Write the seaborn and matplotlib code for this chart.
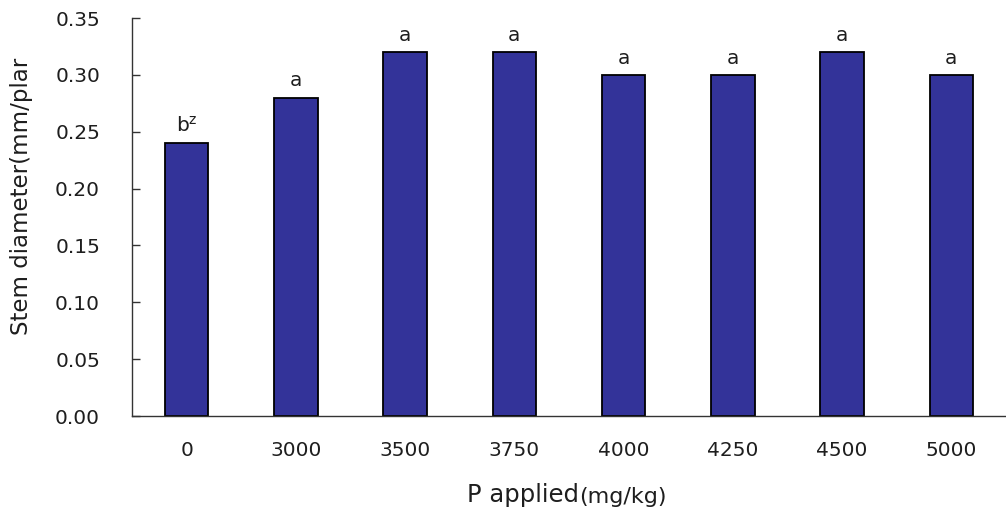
import matplotlib
matplotlib.use("Agg")
import matplotlib.pyplot as plt
import seaborn as sns
import pandas as pd
import numpy as np

# P application rates and measured stem diameter
rates = ["0", "3000", "3500", "3750", "4000", "4250", "4500", "5000"]
stem_diameter = [0.24, 0.28, 0.32, 0.32, 0.30, 0.30, 0.32, 0.30]
letters = ["b", "a", "a", "a", "a", "a", "a", "a"]
y_ticks = [0.00, 0.05, 0.10, 0.15, 0.20, 0.25, 0.30, 0.35]

sns.set_theme(style="white")
plt.rcParams["font.family"] = ["DejaVu Sans"]
TXT = "#1e1e1e"

df = pd.DataFrame({"rate": rates, "diameter": stem_diameter})

fig = plt.figure(figsize=(10.06, 5.14), dpi=100)
ax = fig.add_axes([132 / 1006, 1 - 416 / 514, 874 / 1006, (416 - 18) / 514])

sns.barplot(data=df, x="rate", y="diameter", color="#333399", saturation=1,
            width=0.4, edgecolor="black", linewidth=1.3, ax=ax)

ax.set_ylim(0, 0.35)
ax.set_xlim(-0.5, -0.5 + 874 / 110)
ax.set_yticks(y_ticks)
ax.set_yticklabels([f"{v:.2f}" for v in y_ticks], fontsize=14.5, color=TXT)
ax.set_xticks(range(len(rates)))
ax.set_xticklabels(rates, fontsize=14.5, color=TXT)
ax.tick_params(axis="x", which="major", length=0, pad=18)
ax.set_xticks(np.arange(len(rates)) + 0.5, minor=True)
ax.tick_params(axis="x", which="minor", direction="in", length=6, width=1, color="#333333")
ax.tick_params(axis="y", direction="in", length=6, width=1, color="#333333", pad=23, left=True)

for side in ["top", "right"]:
    ax.spines[side].set_visible(False)
for side in ["left", "bottom"]:
    ax.spines[side].set_color("#333333")
    ax.spines[side].set_linewidth(1.0)

ax.set_xlabel("")
ax.set_ylabel("")

# significance letters above bars
for i, (v, lab) in enumerate(zip(stem_diameter, letters)):
    txt = lab if lab != "b" else r"b$^{\mathregular{z}}$"
    ax.annotate(txt, (i, v), xytext=(0, 8), textcoords="offset points",
                ha="center", va="baseline", fontsize=14.5, color=TXT)

# axis titles
fig.text(22 / 1006, 1 - 196 / 514, "Stem diameter(mm/plar", rotation=90,
         ha="center", va="center", fontsize=16.5, color=TXT)
t1 = fig.text(467 / 1006, 1 - 502 / 514, "P applied", ha="left", va="baseline",
              fontsize=17.5, color=TXT)
ax.annotate("(mg/kg)", xy=(1, 0), xycoords=t1, xytext=(0, 0), textcoords="offset points",
            ha="left", va="bottom", fontsize=16, color=TXT, annotation_clip=False)

fig.savefig("out.png", dpi=100, facecolor="white")
